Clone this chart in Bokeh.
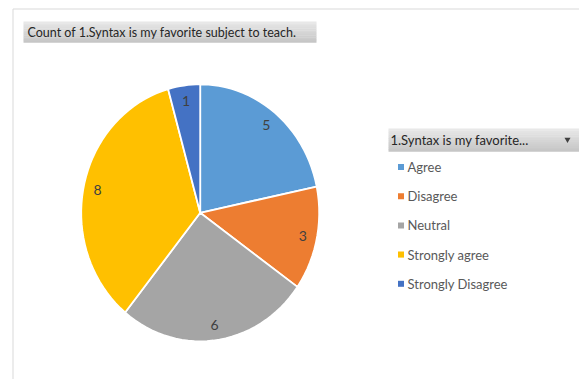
import math

from bokeh.core.properties import value
from bokeh.embed import file_html
from bokeh.models import ColumnDataSource, Range1d
from bokeh.plotting import figure
from bokeh.resources import INLINE

# Survey responses: "1.Syntax is my favorite subject to teach."
categories = ["Agree", "Disagree", "Neutral", "Strongly agree", "Strongly Disagree"]
counts = [5, 3, 6, 8, 1]
colors = ["#5B9BD5", "#ED7D31", "#A5A5A5", "#FFC000", "#4472C4"]

chart_title = "Count of 1.Syntax is my favorite subject to teach."
legend_title = "1.Syntax is my favorite..."

W, H = 579, 379
FONT = "Lato"

# Pie placement in pixels (the pie is drawn slightly taller than wide)
cx, cy = 199.7, 212.3
rx, ry = 119.0, 128.5

p = figure(
    width=W, height=H, output_backend="svg", toolbar_location=None,
    x_range=Range1d(-cx / rx, (W - cx) / rx),
    y_range=Range1d(-(H - cy) / ry, cy / ry),
    min_border=0, min_border_left=0, min_border_right=0,
    min_border_top=0, min_border_bottom=0,
)
p.axis.visible = False
p.grid.visible = False
p.outline_line_color = None
p.background_fill_color = "white"
p.border_fill_color = "white"

# pixel-space ranges for the chart furniture
p.extra_x_ranges["px"] = Range1d(0, W)
p.extra_y_ranges["px"] = Range1d(H, 0)
PX = dict(x_range_name="px", y_range_name="px")

# chart area border (left and top edges)
p.segment(x0=[12.5, 12.5], y0=[8.5, 8.5], x1=[12.5, W], y1=[H, 8.5],
          line_color="#d9d9d9", line_width=1, **PX)

# ---- pie slices, clockwise from 12 o'clock ----
total = sum(counts)
xs, ys, lx, ly = [], [], [], []
cum = 0
for c in counts:
    a0 = math.pi / 2 - 2 * math.pi * cum / total
    a1 = math.pi / 2 - 2 * math.pi * (cum + c) / total
    n = max(8, int(120 * c / total))
    angs = [a0 + (a1 - a0) * k / n for k in range(n + 1)]
    xs.append([0.0] + [math.cos(a) for a in angs])
    ys.append([0.0] + [math.sin(a) for a in angs])
    mid = (a0 + a1) / 2
    lx.append(0.88 * math.cos(mid))
    ly.append(0.88 * math.sin(mid))
    cum += c

pie_src = ColumnDataSource(dict(xs=xs, ys=ys, color=colors, cat=categories))
p.patches("xs", "ys", source=pie_src, fill_color="color",
          line_color="white", line_width=1.8)

lab_src = ColumnDataSource(dict(x=lx, y=ly, t=[str(c) for c in counts]))
p.text("x", "y", text="t", source=lab_src, text_align="center",
       text_baseline="middle", text_font=value(FONT),
       text_font_size="14px", text_color="#404040")


# ---- gray gradient header boxes ----
def gradient_box(x0, x1, y0, y1, top=(232, 232, 232), bottom=(198, 198, 198), steps=12):
    h = (y1 - y0) / steps
    lefts, rights, tops, bottoms, fills = [], [], [], [], []
    for i in range(steps):
        t = i / (steps - 1)
        col = tuple(int(top[j] + (bottom[j] - top[j]) * t) for j in range(3))
        lefts.append(x0)
        rights.append(x1)
        tops.append(y0 + i * h)
        bottoms.append(y0 + (i + 1) * h + 0.3)
        fills.append("#%02x%02x%02x" % col)
    p.quad(left=lefts, right=rights, top=tops, bottom=bottoms,
           fill_color=fills, line_color=None, **PX)


# chart title
gradient_box(23, 316, 21, 42)
p.text(x=[27], y=[31.5], text=[chart_title], text_baseline="middle",
       text_font=value(FONT), text_font_size="12.5px", text_color="#262626", **PX)

# legend header with dropdown arrow
gradient_box(388, 579, 128, 151)
p.text(x=[390], y=[139.5], text=[legend_title], text_baseline="middle",
       text_font=value(FONT), text_font_size="13px", text_color="#262626", **PX)
p.scatter(x=[567], y=[139], marker="inverted_triangle", size=6,
          fill_color="#404040", line_color=None, **PX)

# legend entries
leg_y = [166.5 + i * 29.2 for i in range(len(categories))]
leg_src = ColumnDataSource(dict(y=leg_y, cat=categories, color=colors,
                                mx=[400.5] * len(categories), tx=[407] * len(categories)))
p.scatter("mx", "y", source=leg_src, marker="square", size=6,
          fill_color="color", line_color=None, **PX)
p.text("tx", "y", text="cat", source=leg_src, text_baseline="middle",
       text_font=value(FONT), text_font_size="13px", text_color="#595959", **PX)

open("out.html", "w").write(file_html(p, INLINE))
